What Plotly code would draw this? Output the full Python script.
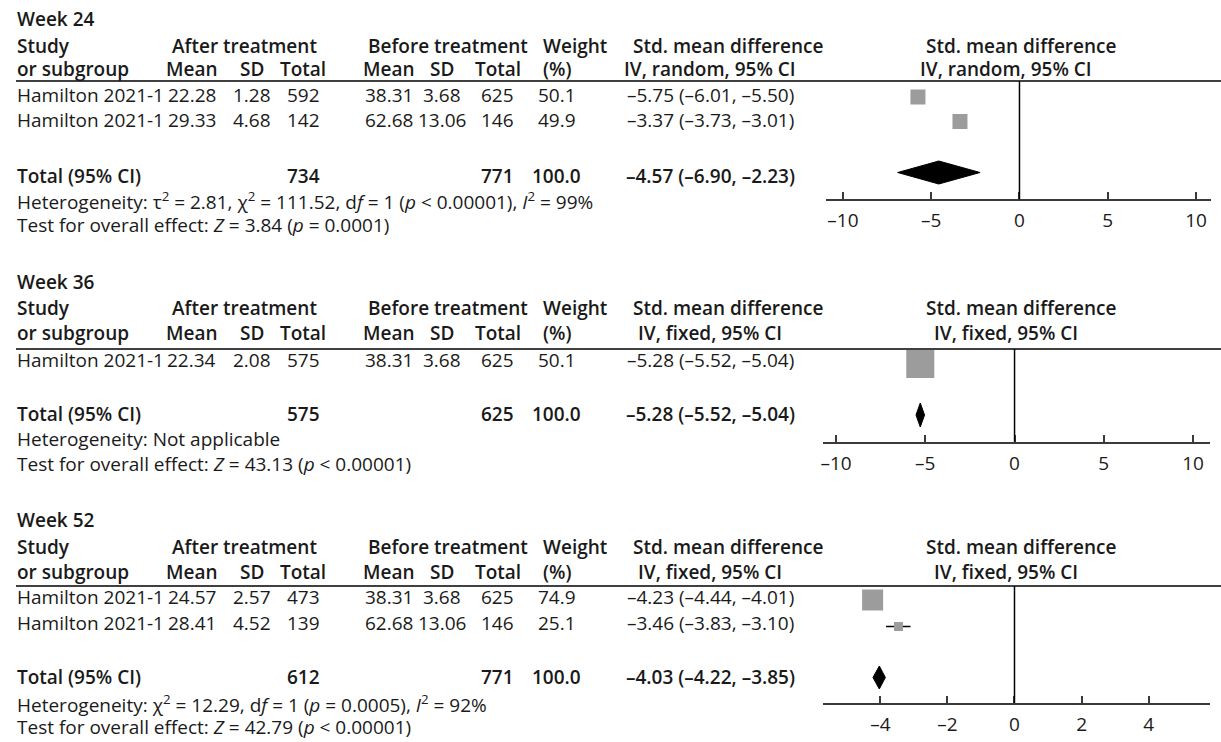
import plotly.graph_objects as go

W, H = 1221, 742
FONT = "Open Sans"
FS = 19
TXT = "#1a1a1a"

# ---------------- data ----------------
weeks = ["Week 24", "Week 36", "Week 52"]
models = ["random", "fixed", "fixed"]

study_24 = ["Hamilton 2021-1", "Hamilton 2021-1"]
after_mean_24 = [22.28, 29.33]
after_sd_24 = [1.28, 4.68]
after_n_24 = [592, 142]
before_mean_24 = [38.31, 62.68]
before_sd_24 = [3.68, 13.06]
before_n_24 = [625, 146]
weight_24 = [50.1, 49.9]
smd_24 = [-5.75, -3.37]
lo_24 = [-6.01, -3.73]
hi_24 = [-5.50, -3.01]
tot_after_24, tot_before_24 = 734, 771
tot_smd_24 = [-4.57, -6.90, -2.23]
het_24 = "Heterogeneity: τ<sup>2</sup> = 2.81, χ<sup>2</sup> = 111.52, d<i>f</i> = 1 (<i>p</i> < 0.00001), <i>I</i><sup>2</sup> = 99%"
test_24 = "Test for overall effect: <i>Z</i> = 3.84 (<i>p</i> = 0.0001)"

study_36 = ["Hamilton 2021-1"]
after_mean_36 = [22.34]
after_sd_36 = [2.08]
after_n_36 = [575]
before_mean_36 = [38.31]
before_sd_36 = [3.68]
before_n_36 = [625]
weight_36 = [50.1]
smd_36 = [-5.28]
lo_36 = [-5.52]
hi_36 = [-5.04]
tot_after_36, tot_before_36 = 575, 625
tot_smd_36 = [-5.28, -5.52, -5.04]
het_36 = "Heterogeneity: Not applicable"
test_36 = "Test for overall effect: <i>Z</i> = 43.13 (<i>p</i> < 0.00001)"

study_52 = ["Hamilton 2021-1", "Hamilton 2021-1"]
after_mean_52 = [24.57, 28.41]
after_sd_52 = [2.57, 4.52]
after_n_52 = [473, 139]
before_mean_52 = [38.31, 62.68]
before_sd_52 = [3.68, 13.06]
before_n_52 = [625, 146]
weight_52 = [74.9, 25.1]
smd_52 = [-4.23, -3.46]
lo_52 = [-4.44, -3.83]
hi_52 = [-4.01, -3.10]
tot_after_52, tot_before_52 = 612, 771
tot_smd_52 = [-4.03, -4.22, -3.85]
het_52 = "Heterogeneity: χ<sup>2</sup> = 12.29, d<i>f</i> = 1 (<i>p</i> = 0.0005), <i>I</i><sup>2</sup> = 92%"
test_52 = "Test for overall effect: <i>Z</i> = 42.79 (<i>p</i> < 0.00001)"

ticks_24 = [-10, -5, 0, 5, 10]
ticks_36 = [-10, -5, 0, 5, 10]
ticks_52 = [-4, -2, 0, 2, 4]
total_weight = 100.0

# ---------------- layout / style (pixel positions) ----------------
layouts = [
    dict(title=18.5, h1=45.5, h2=69, rule=81, rows=[95, 120.5], total=175.5, het=201.5, test=225,
         axis=199.3, mrows=[97, 121.5], dia=172.5, dh=23, msize=[15, 15],
         dom=(825, 1211), rng=(-10.96, 10.85)),
    dict(title=282, h1=308.5, h2=332.5, rule=349, rows=[359.5], total=413.5, het=439, test=463.5,
         axis=441.7, mrows=[364], dia=415, dh=24, msize=[28],
         dom=(822, 1210), rng=(-10.73, 10.95)),
    dict(title=520, h1=546.5, h2=571.5, rule=586, rows=[597, 623], total=677, het=703.5, test=726.5,
         axis=703, mrows=[600, 626.5], dia=677.5, dh=23, msize=[21, 9],
         dom=(822, 1210), rng=(-5.71, 5.83)),
]

blocks = [
    dict(study=study_24, am=after_mean_24, asd=after_sd_24, an=after_n_24, bm=before_mean_24,
         bsd=before_sd_24, bn=before_n_24, w=weight_24, e=smd_24, lo=lo_24, hi=hi_24,
         ta=tot_after_24, tb=tot_before_24, ts=tot_smd_24, het=het_24, test=test_24, ticks=ticks_24),
    dict(study=study_36, am=after_mean_36, asd=after_sd_36, an=after_n_36, bm=before_mean_36,
         bsd=before_sd_36, bn=before_n_36, w=weight_36, e=smd_36, lo=lo_36, hi=hi_36,
         ta=tot_after_36, tb=tot_before_36, ts=tot_smd_36, het=het_36, test=test_36, ticks=ticks_36),
    dict(study=study_52, am=after_mean_52, asd=after_sd_52, an=after_n_52, bm=before_mean_52,
         bsd=before_sd_52, bn=before_n_52, w=weight_52, e=smd_52, lo=lo_52, hi=hi_52,
         ta=tot_after_52, tb=tot_before_52, ts=tot_smd_52, het=het_52, test=test_52, ticks=ticks_52),
]

COL = dict(study=12, am=189, asd=250, an=301, bm=387, bsd=440, bn=496, w=555, ci=709,
           after_hdr=242, before_hdr=446, weight_hdr=539, smd_hdr=727.5, plot_hdr1=1021.5, plot_hdr2=1005.5)


def px(x):
    return x / W


def py(y):
    return 1 - y / H


def sgn(v):
    s = f"{abs(v):.2f}"
    return ("\u2013" + s) if v < 0 else s


def ci_text(e, l, h):
    return f"{sgn(e)} ({sgn(l)}, {sgn(h)})"


def tick_text(v):
    return ("\u2013" + str(abs(v))) if v < 0 else str(v)


fig = go.Figure()
ann = []
shapes = []


def text(x, y, s, anchor="center", bold=False):
    ann.append(dict(x=px(x), y=py(y), xref="paper", yref="paper", text=s, showarrow=False,
                    xanchor=anchor, yanchor="middle",
                    font=dict(family=FONT, size=FS, color=TXT, weight=600 if bold else 400)))


for i, (b, L) in enumerate(zip(blocks, layouts)):
    model = models[i]
    # titles and headers
    text(COL["study"], L["title"], weeks[i], "left", True)
    text(COL["study"], L["h1"], "Study", "left", True)
    text(COL["after_hdr"], L["h1"], "After treatment", bold=True)
    text(COL["before_hdr"], L["h1"], "Before treatment", bold=True)
    text(COL["weight_hdr"], L["h1"], "Weight", "left", True)
    text(COL["smd_hdr"], L["h1"], "Std. mean difference", bold=True)
    text(COL["plot_hdr1"], L["h1"], "Std. mean difference", bold=True)
    text(COL["study"], L["h2"], "or subgroup", "left", True)
    text(COL["am"], L["h2"], "Mean", bold=True)
    text(COL["asd"], L["h2"], "SD", bold=True)
    text(COL["an"], L["h2"], "Total", bold=True)
    text(COL["bm"], L["h2"], "Mean", bold=True)
    text(COL["bsd"], L["h2"], "SD", bold=True)
    text(COL["bn"], L["h2"], "Total", bold=True)
    text(COL["weight_hdr"], L["h2"], "(%)", "left", True)
    text(COL["ci"], L["h2"], f"IV, {model}, 95% CI", bold=True)
    text(COL["plot_hdr2"], L["h2"], f"IV, {model}, 95% CI", bold=True)
    shapes.append(dict(type="line", xref="paper", yref="paper", x0=px(13), x1=1,
                       y0=py(L["rule"]), y1=py(L["rule"]), line=dict(color="black", width=1.5)))
    # study rows
    for j, y in enumerate(L["rows"]):
        text(COL["study"], y, b["study"][j], "left")
        text(COL["am"], y, f"{b['am'][j]:.2f}")
        text(COL["asd"], y, f"{b['asd'][j]:.2f}")
        text(COL["an"], y, str(b["an"][j]))
        text(COL["bm"], y, f"{b['bm'][j]:.2f}")
        text(COL["bsd"], y, f"{b['bsd'][j]:.2f}")
        text(COL["bn"], y, str(b["bn"][j]))
        text(COL["w"], y, f"{b['w'][j]:.1f}")
        text(COL["ci"], y, ci_text(b["e"][j], b["lo"][j], b["hi"][j]))
    # total row
    text(COL["study"], L["total"], "Total (95% CI)", "left", True)
    text(COL["an"], L["total"], str(b["ta"]), bold=True)
    text(COL["bn"], L["total"], str(b["tb"]), bold=True)
    text(COL["w"], L["total"], f"{total_weight:.1f}", bold=True)
    text(COL["ci"], L["total"], ci_text(*b["ts"]), bold=True)
    text(COL["study"], L["het"], b["het"], "left")
    text(COL["study"], L["test"], b["test"], "left")

    # forest plot
    sfx = "" if i == 0 else str(i + 1)
    xa, ya = "x" + sfx, "y" + sfx
    # confidence-interval whiskers (drawn first, below the squares)
    cx, cy = [], []
    for l, h, y in zip(b["lo"], b["hi"], L["mrows"]):
        cx += [l, h, None]
        cy += [y, y, None]
    fig.add_trace(go.Scatter(
        x=cx, y=cy, mode="lines", line=dict(color="black", width=1.5),
        xaxis=xa, yaxis=ya, cliponaxis=False, hoverinfo="skip", showlegend=False))
    fig.add_trace(go.Scatter(
        x=b["e"], y=L["mrows"], mode="markers", xaxis=xa, yaxis=ya, cliponaxis=False,
        marker=dict(symbol="square", size=L["msize"], color="#9c9c9c", opacity=1, line=dict(width=0)),
        hoverinfo="skip", showlegend=False))
    est, lo, hi = b["ts"]
    yc, dh = L["dia"], L["dh"]
    fig.add_trace(go.Scatter(
        x=[lo, est, hi, est, lo], y=[yc, yc - dh / 2, yc, yc + dh / 2, yc],
        mode="lines", fill="toself", fillcolor="black", line=dict(color="black", width=1),
        xaxis=xa, yaxis=ya, cliponaxis=False, hoverinfo="skip", showlegend=False))
    shapes.append(dict(type="line", xref=xa, yref=ya + " domain", x0=0, x1=0, y0=0, y1=1,
                       line=dict(color="black", width=1.5)))

    xname = "xaxis" + sfx
    yname = "yaxis" + sfx
    fig.update_layout(**{
        xname: dict(domain=[px(L["dom"][0]), px(L["dom"][1])], range=list(L["rng"]), anchor=ya,
                    showgrid=False, zeroline=False, showline=True, linecolor="#3a3a3a", linewidth=2,
                    ticks="inside", ticklen=7, tickwidth=1.5, tickcolor="#3a3a3a",
                    ticklabelstandoff=3,
                    tickvals=b["ticks"], ticktext=[tick_text(v) for v in b["ticks"]],
                    tickfont=dict(family=FONT, size=FS, color=TXT), fixedrange=True),
        yname: dict(domain=[py(L["axis"]), py(L["rule"])], range=[L["axis"], L["rule"]],
                    anchor=xa, visible=False, showgrid=False, zeroline=False, fixedrange=True),
    })

fig.update_layout(
    width=W, height=H, autosize=False,
    margin=dict(l=0, r=0, t=0, b=0, pad=0),
    paper_bgcolor="white", plot_bgcolor="rgba(0,0,0,0)",
    font=dict(family=FONT, size=FS, color=TXT),
    annotations=ann, shapes=shapes, showlegend=False,
)

fig.write_html("out.html", config={"displayModeBar": False},
               post_script="document.body.style.margin='0px';document.body.style.overflow='hidden';")
